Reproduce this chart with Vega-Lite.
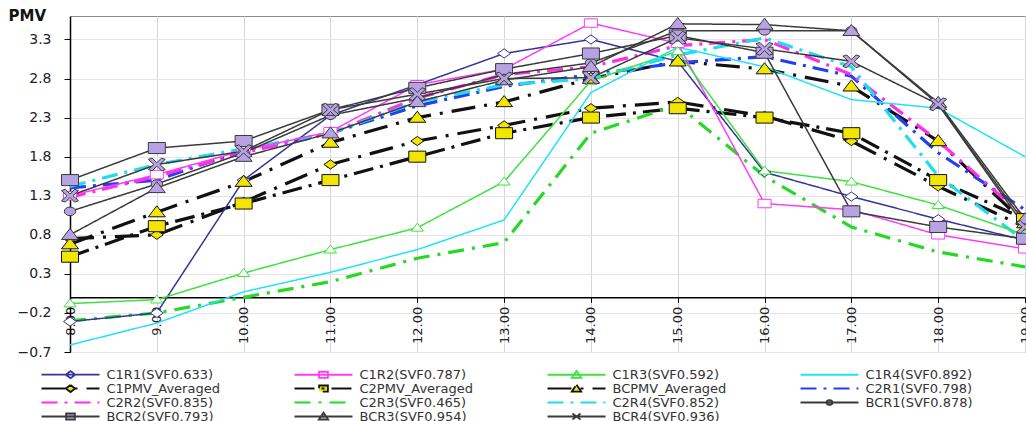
{
  "$schema": "https://vega.github.io/schema/vega-lite/v6.json",
  "width": 955,
  "height": 336,
  "autosize": {"type": "none"},
  "padding": {"left": 70, "top": 16, "right": 1, "bottom": 69},
  "background": "white",
  "config": {
    "font": "DejaVu Sans",
    "view": {"stroke": "#8c8c8c", "strokeWidth": 1},
    "axis": {"labelFont": "DejaVu Sans", "labelColor": "#222222", "tickColor": "#000000", "domainColor": "#000000", "domainWidth": 1.5}
  },
  "data": {
    "values": [
      {"series": "C1R1(SVF0.633)", "hour": 8, "pmv": -0.31}, {"series": "C1R1(SVF0.633)", "hour": 9, "pmv": -0.2}, {"series": "C1R1(SVF0.633)", "hour": 10, "pmv": 1.5}, {"series": "C1R1(SVF0.633)", "hour": 11, "pmv": 2.33}, {"series": "C1R1(SVF0.633)", "hour": 12, "pmv": 2.72}, {"series": "C1R1(SVF0.633)", "hour": 13, "pmv": 3.12}, {"series": "C1R1(SVF0.633)", "hour": 14, "pmv": 3.3}, {"series": "C1R1(SVF0.633)", "hour": 15, "pmv": 3.02}, {"series": "C1R1(SVF0.633)", "hour": 16, "pmv": 1.6}, {"series": "C1R1(SVF0.633)", "hour": 17, "pmv": 1.29}, {"series": "C1R1(SVF0.633)", "hour": 18, "pmv": 1.0}, {"series": "C1R1(SVF0.633)", "hour": 19, "pmv": 0.73},
      {"series": "C1R2(SVF0.787)", "hour": 8, "pmv": 1.3}, {"series": "C1R2(SVF0.787)", "hour": 9, "pmv": 1.57}, {"series": "C1R2(SVF0.787)", "hour": 10, "pmv": 1.88}, {"series": "C1R2(SVF0.787)", "hour": 11, "pmv": 2.12}, {"series": "C1R2(SVF0.787)", "hour": 12, "pmv": 2.72}, {"series": "C1R2(SVF0.787)", "hour": 13, "pmv": 2.92}, {"series": "C1R2(SVF0.787)", "hour": 14, "pmv": 3.51}, {"series": "C1R2(SVF0.787)", "hour": 15, "pmv": 3.25}, {"series": "C1R2(SVF0.787)", "hour": 16, "pmv": 1.2}, {"series": "C1R2(SVF0.787)", "hour": 17, "pmv": 1.12}, {"series": "C1R2(SVF0.787)", "hour": 18, "pmv": 0.8}, {"series": "C1R2(SVF0.787)", "hour": 19, "pmv": 0.62},
      {"series": "C1R3(SVF0.592)", "hour": 8, "pmv": -0.08}, {"series": "C1R3(SVF0.592)", "hour": 9, "pmv": -0.03}, {"series": "C1R3(SVF0.592)", "hour": 10, "pmv": 0.31}, {"series": "C1R3(SVF0.592)", "hour": 11, "pmv": 0.61}, {"series": "C1R3(SVF0.592)", "hour": 12, "pmv": 0.89}, {"series": "C1R3(SVF0.592)", "hour": 13, "pmv": 1.48}, {"series": "C1R3(SVF0.592)", "hour": 14, "pmv": 2.77}, {"series": "C1R3(SVF0.592)", "hour": 15, "pmv": 3.15}, {"series": "C1R3(SVF0.592)", "hour": 16, "pmv": 1.62}, {"series": "C1R3(SVF0.592)", "hour": 17, "pmv": 1.48}, {"series": "C1R3(SVF0.592)", "hour": 18, "pmv": 1.18}, {"series": "C1R3(SVF0.592)", "hour": 19, "pmv": 0.8},
      {"series": "C1R4(SVF0.892)", "hour": 8, "pmv": -0.61}, {"series": "C1R4(SVF0.892)", "hour": 9, "pmv": -0.33}, {"series": "C1R4(SVF0.892)", "hour": 10, "pmv": 0.07}, {"series": "C1R4(SVF0.892)", "hour": 11, "pmv": 0.32}, {"series": "C1R4(SVF0.892)", "hour": 12, "pmv": 0.61}, {"series": "C1R4(SVF0.892)", "hour": 13, "pmv": 0.99}, {"series": "C1R4(SVF0.892)", "hour": 14, "pmv": 2.62}, {"series": "C1R4(SVF0.892)", "hour": 15, "pmv": 3.2}, {"series": "C1R4(SVF0.892)", "hour": 16, "pmv": 2.95}, {"series": "C1R4(SVF0.892)", "hour": 17, "pmv": 2.53}, {"series": "C1R4(SVF0.892)", "hour": 18, "pmv": 2.42}, {"series": "C1R4(SVF0.892)", "hour": 19, "pmv": 1.8},
      {"series": "C1PMV_Averaged", "hour": 8, "pmv": 0.75}, {"series": "C1PMV_Averaged", "hour": 9, "pmv": 0.8}, {"series": "C1PMV_Averaged", "hour": 10, "pmv": 1.22}, {"series": "C1PMV_Averaged", "hour": 11, "pmv": 1.7}, {"series": "C1PMV_Averaged", "hour": 12, "pmv": 2.0}, {"series": "C1PMV_Averaged", "hour": 13, "pmv": 2.2}, {"series": "C1PMV_Averaged", "hour": 14, "pmv": 2.42}, {"series": "C1PMV_Averaged", "hour": 15, "pmv": 2.5}, {"series": "C1PMV_Averaged", "hour": 16, "pmv": 2.32}, {"series": "C1PMV_Averaged", "hour": 17, "pmv": 2.0}, {"series": "C1PMV_Averaged", "hour": 18, "pmv": 1.42}, {"series": "C1PMV_Averaged", "hour": 19, "pmv": 0.9},
      {"series": "C2PMV_Averaged", "hour": 8, "pmv": 0.52}, {"series": "C2PMV_Averaged", "hour": 9, "pmv": 0.91}, {"series": "C2PMV_Averaged", "hour": 10, "pmv": 1.2}, {"series": "C2PMV_Averaged", "hour": 11, "pmv": 1.5}, {"series": "C2PMV_Averaged", "hour": 12, "pmv": 1.8}, {"series": "C2PMV_Averaged", "hour": 13, "pmv": 2.1}, {"series": "C2PMV_Averaged", "hour": 14, "pmv": 2.3}, {"series": "C2PMV_Averaged", "hour": 15, "pmv": 2.42}, {"series": "C2PMV_Averaged", "hour": 16, "pmv": 2.3}, {"series": "C2PMV_Averaged", "hour": 17, "pmv": 2.1}, {"series": "C2PMV_Averaged", "hour": 18, "pmv": 1.5}, {"series": "C2PMV_Averaged", "hour": 19, "pmv": 1.0},
      {"series": "BCPMV_Averaged", "hour": 8, "pmv": 0.68}, {"series": "BCPMV_Averaged", "hour": 9, "pmv": 1.09}, {"series": "BCPMV_Averaged", "hour": 10, "pmv": 1.48}, {"series": "BCPMV_Averaged", "hour": 11, "pmv": 1.98}, {"series": "BCPMV_Averaged", "hour": 12, "pmv": 2.3}, {"series": "BCPMV_Averaged", "hour": 13, "pmv": 2.5}, {"series": "BCPMV_Averaged", "hour": 14, "pmv": 2.8}, {"series": "BCPMV_Averaged", "hour": 15, "pmv": 3.02}, {"series": "BCPMV_Averaged", "hour": 16, "pmv": 2.92}, {"series": "BCPMV_Averaged", "hour": 17, "pmv": 2.7}, {"series": "BCPMV_Averaged", "hour": 18, "pmv": 2.0}, {"series": "BCPMV_Averaged", "hour": 19, "pmv": 0.95},
      {"series": "C2R1(SVF0.798)", "hour": 8, "pmv": 1.4}, {"series": "C2R1(SVF0.798)", "hour": 9, "pmv": 1.5}, {"series": "C2R1(SVF0.798)", "hour": 10, "pmv": 1.88}, {"series": "C2R1(SVF0.798)", "hour": 11, "pmv": 2.1}, {"series": "C2R1(SVF0.798)", "hour": 12, "pmv": 2.45}, {"series": "C2R1(SVF0.798)", "hour": 13, "pmv": 2.7}, {"series": "C2R1(SVF0.798)", "hour": 14, "pmv": 2.85}, {"series": "C2R1(SVF0.798)", "hour": 15, "pmv": 3.0}, {"series": "C2R1(SVF0.798)", "hour": 16, "pmv": 3.08}, {"series": "C2R1(SVF0.798)", "hour": 17, "pmv": 2.83}, {"series": "C2R1(SVF0.798)", "hour": 18, "pmv": 1.85}, {"series": "C2R1(SVF0.798)", "hour": 19, "pmv": 1.12},
      {"series": "C2R2(SVF0.835)", "hour": 8, "pmv": 1.28}, {"series": "C2R2(SVF0.835)", "hour": 9, "pmv": 1.55}, {"series": "C2R2(SVF0.835)", "hour": 10, "pmv": 1.85}, {"series": "C2R2(SVF0.835)", "hour": 11, "pmv": 2.1}, {"series": "C2R2(SVF0.835)", "hour": 12, "pmv": 2.55}, {"series": "C2R2(SVF0.835)", "hour": 13, "pmv": 2.85}, {"series": "C2R2(SVF0.835)", "hour": 14, "pmv": 2.95}, {"series": "C2R2(SVF0.835)", "hour": 15, "pmv": 3.22}, {"series": "C2R2(SVF0.835)", "hour": 16, "pmv": 3.3}, {"series": "C2R2(SVF0.835)", "hour": 17, "pmv": 2.85}, {"series": "C2R2(SVF0.835)", "hour": 18, "pmv": 2.0}, {"series": "C2R2(SVF0.835)", "hour": 19, "pmv": 1.02},
      {"series": "C2R3(SVF0.465)", "hour": 8, "pmv": -0.3}, {"series": "C2R3(SVF0.465)", "hour": 9, "pmv": -0.2}, {"series": "C2R3(SVF0.465)", "hour": 10, "pmv": 0.0}, {"series": "C2R3(SVF0.465)", "hour": 11, "pmv": 0.2}, {"series": "C2R3(SVF0.465)", "hour": 12, "pmv": 0.5}, {"series": "C2R3(SVF0.465)", "hour": 13, "pmv": 0.7}, {"series": "C2R3(SVF0.465)", "hour": 14, "pmv": 2.1}, {"series": "C2R3(SVF0.465)", "hour": 15, "pmv": 2.46}, {"series": "C2R3(SVF0.465)", "hour": 16, "pmv": 1.55}, {"series": "C2R3(SVF0.465)", "hour": 17, "pmv": 0.9}, {"series": "C2R3(SVF0.465)", "hour": 18, "pmv": 0.58}, {"series": "C2R3(SVF0.465)", "hour": 19, "pmv": 0.39},
      {"series": "C2R4(SVF0.852)", "hour": 8, "pmv": 1.42}, {"series": "C2R4(SVF0.852)", "hour": 9, "pmv": 1.7}, {"series": "C2R4(SVF0.852)", "hour": 10, "pmv": 1.9}, {"series": "C2R4(SVF0.852)", "hour": 11, "pmv": 2.1}, {"series": "C2R4(SVF0.852)", "hour": 12, "pmv": 2.5}, {"series": "C2R4(SVF0.852)", "hour": 13, "pmv": 2.72}, {"series": "C2R4(SVF0.852)", "hour": 14, "pmv": 2.8}, {"series": "C2R4(SVF0.852)", "hour": 15, "pmv": 3.1}, {"series": "C2R4(SVF0.852)", "hour": 16, "pmv": 3.32}, {"series": "C2R4(SVF0.852)", "hour": 17, "pmv": 2.95}, {"series": "C2R4(SVF0.852)", "hour": 18, "pmv": 1.55}, {"series": "C2R4(SVF0.852)", "hour": 19, "pmv": 0.72},
      {"series": "BCR1(SVF0.878)", "hour": 8, "pmv": 1.1}, {"series": "BCR1(SVF0.878)", "hour": 9, "pmv": 1.45}, {"series": "BCR1(SVF0.878)", "hour": 10, "pmv": 1.85}, {"series": "BCR1(SVF0.878)", "hour": 11, "pmv": 2.33}, {"series": "BCR1(SVF0.878)", "hour": 12, "pmv": 2.55}, {"series": "BCR1(SVF0.878)", "hour": 13, "pmv": 2.85}, {"series": "BCR1(SVF0.878)", "hour": 14, "pmv": 3.0}, {"series": "BCR1(SVF0.878)", "hour": 15, "pmv": 3.41}, {"series": "BCR1(SVF0.878)", "hour": 16, "pmv": 3.41}, {"series": "BCR1(SVF0.878)", "hour": 17, "pmv": 3.41}, {"series": "BCR1(SVF0.878)", "hour": 18, "pmv": 2.47}, {"series": "BCR1(SVF0.878)", "hour": 19, "pmv": 0.95},
      {"series": "BCR2(SVF0.793)", "hour": 8, "pmv": 1.5}, {"series": "BCR2(SVF0.793)", "hour": 9, "pmv": 1.91}, {"series": "BCR2(SVF0.793)", "hour": 10, "pmv": 2.0}, {"series": "BCR2(SVF0.793)", "hour": 11, "pmv": 2.4}, {"series": "BCR2(SVF0.793)", "hour": 12, "pmv": 2.68}, {"series": "BCR2(SVF0.793)", "hour": 13, "pmv": 2.92}, {"series": "BCR2(SVF0.793)", "hour": 14, "pmv": 3.12}, {"series": "BCR2(SVF0.793)", "hour": 15, "pmv": 3.35}, {"series": "BCR2(SVF0.793)", "hour": 16, "pmv": 3.13}, {"series": "BCR2(SVF0.793)", "hour": 17, "pmv": 1.1}, {"series": "BCR2(SVF0.793)", "hour": 18, "pmv": 0.9}, {"series": "BCR2(SVF0.793)", "hour": 19, "pmv": 0.75},
      {"series": "BCR3(SVF0.954)", "hour": 8, "pmv": 0.8}, {"series": "BCR3(SVF0.954)", "hour": 9, "pmv": 1.4}, {"series": "BCR3(SVF0.954)", "hour": 10, "pmv": 1.8}, {"series": "BCR3(SVF0.954)", "hour": 11, "pmv": 2.1}, {"series": "BCR3(SVF0.954)", "hour": 12, "pmv": 2.5}, {"series": "BCR3(SVF0.954)", "hour": 13, "pmv": 2.78}, {"series": "BCR3(SVF0.954)", "hour": 14, "pmv": 2.95}, {"series": "BCR3(SVF0.954)", "hour": 15, "pmv": 3.5}, {"series": "BCR3(SVF0.954)", "hour": 16, "pmv": 3.49}, {"series": "BCR3(SVF0.954)", "hour": 17, "pmv": 3.41}, {"series": "BCR3(SVF0.954)", "hour": 18, "pmv": 2.49}, {"series": "BCR3(SVF0.954)", "hour": 19, "pmv": 1.0},
      {"series": "BCR4(SVF0.936)", "hour": 8, "pmv": 1.3}, {"series": "BCR4(SVF0.936)", "hour": 9, "pmv": 1.7}, {"series": "BCR4(SVF0.936)", "hour": 10, "pmv": 1.87}, {"series": "BCR4(SVF0.936)", "hour": 11, "pmv": 2.4}, {"series": "BCR4(SVF0.936)", "hour": 12, "pmv": 2.6}, {"series": "BCR4(SVF0.936)", "hour": 13, "pmv": 2.8}, {"series": "BCR4(SVF0.936)", "hour": 14, "pmv": 2.81}, {"series": "BCR4(SVF0.936)", "hour": 15, "pmv": 3.32}, {"series": "BCR4(SVF0.936)", "hour": 16, "pmv": 3.18}, {"series": "BCR4(SVF0.936)", "hour": 17, "pmv": 3.02}, {"series": "BCR4(SVF0.936)", "hour": 18, "pmv": 2.47}, {"series": "BCR4(SVF0.936)", "hour": 19, "pmv": 0.9}
    ]
  },
  "encoding": {
    "x": {
      "field": "hour",
      "type": "quantitative",
      "scale": {"domain": [8, 19], "nice": false, "zero": false},
      "axis": {
        "title": null,
        "values": [8, 9, 10, 11, 12, 13, 14, 15, 16, 17, 18, 19],
        "format": ".2f",
        "offset": -54.7,
        "labelAngle": -90,
        "labelAlign": "right",
        "labelBaseline": "middle",
        "labelFontSize": 13,
        "labelPadding": 4,
        "labelFlush": false,
        "labelOverlap": false,
        "tickSize": 5,
        "grid": true,
        "gridColor": "#d4d4e2",
        "gridWidth": 1
      }
    },
    "y": {
      "field": "pmv",
      "type": "quantitative",
      "scale": {"domain": [-0.7, 3.6], "nice": false, "zero": false},
      "axis": {
        "values": [-0.7, -0.2, 0.3, 0.8, 1.3, 1.8, 2.3, 2.8, 3.3],
        "format": ".1f",
        "labelFontSize": 14,
        "labelPadding": 13,
        "tickSize": 6,
        "grid": true,
        "gridColor": "#e4e4ec",
        "title": "PMV",
        "titleAngle": 0,
        "titleX": -62,
        "titleY": 4,
        "titleAlign": "left",
        "titleBaseline": "alphabetic",
        "titleFont": "DejaVu Sans",
        "titleFontSize": 15,
        "titleFontWeight": "bold",
        "titleColor": "#111111"
      }
    },
    "stroke": {
      "field": "series",
      "type": "nominal",
      "scale": {
        "domain": ["C1R1(SVF0.633)", "C1R2(SVF0.787)", "C1R3(SVF0.592)", "C1R4(SVF0.892)", "C1PMV_Averaged", "C2PMV_Averaged", "BCPMV_Averaged", "C2R1(SVF0.798)", "C2R2(SVF0.835)", "C2R3(SVF0.465)", "C2R4(SVF0.852)", "BCR1(SVF0.878)", "BCR2(SVF0.793)", "BCR3(SVF0.954)", "BCR4(SVF0.936)"],
        "range": ["#35349a", "#ff3cf5", "#3de23d", "#1fe3f5", "#111111", "#111111", "#111111", "#2140f5", "#ff2ee8", "#27d827", "#22dcec", "#3a3a3a", "#3a3a3a", "#3a3a3a", "#3a3a3a"]
      },
      "legend": {
        "orient": "none", "direction": "horizontal", "legendX": -6, "legendY": 352, "title": null, "columns": 4, "gridAlign": "all", "columnPadding": 69, "rowPadding": -1.7, "padding": 0,
        "symbolSize": 121, "symbolOffset": 0, "symbolStrokeWidth": 1.8, "labelOffset": 29.5, "labelFont": "DejaVu Sans", "labelFontSize": 13, "labelColor": "#333333", "labelLimit": 0
      }
    }
  },
  "layer": [
    {
      "transform": [{"filter": {"field": "series", "oneOf": ["C1PMV_Averaged", "C2PMV_Averaged", "BCPMV_Averaged", "C2R1(SVF0.798)", "C2R2(SVF0.835)", "C2R3(SVF0.465)", "C2R4(SVF0.852)"]}}],
      "mark": {"type": "line", "strokeWidth": 3.2},
      "encoding": {
        "strokeDash": {
          "field": "series",
          "type": "nominal",
          "scale": {
            "domain": ["C1R1(SVF0.633)", "C1R2(SVF0.787)", "C1R3(SVF0.592)", "C1R4(SVF0.892)", "C1PMV_Averaged", "C2PMV_Averaged", "BCPMV_Averaged", "C2R1(SVF0.798)", "C2R2(SVF0.835)", "C2R3(SVF0.465)", "C2R4(SVF0.852)", "BCR1(SVF0.878)", "BCR2(SVF0.793)", "BCR3(SVF0.954)", "BCR4(SVF0.936)"],
            "range": [[1, 0], [1, 0], [1, 0], [1, 0], [24, 9, 3, 9], [20, 7, 3, 7], [24, 9, 3, 9], [16, 7, 3, 7], [16, 7, 3, 7], [16, 8, 3, 8], [16, 7, 3, 7], [1, 0], [1, 0], [1, 0], [1, 0]]
          }
        }
      }
    },
    {
      "transform": [{"filter": {"field": "series", "oneOf": ["C1R1(SVF0.633)", "C1R2(SVF0.787)", "C1R3(SVF0.592)", "C1R4(SVF0.892)", "BCR1(SVF0.878)", "BCR2(SVF0.793)", "BCR3(SVF0.954)", "BCR4(SVF0.936)"]}}],
      "mark": {"type": "line", "strokeWidth": 1.5},
      "encoding": {
        "strokeDash": {"field": "series", "type": "nominal"}
      }
    },
    {
      "transform": [{"filter": {"field": "series", "oneOf": ["C1R1(SVF0.633)", "C1PMV_Averaged"]}}],
      "mark": {"type": "point", "shape": "M0,-0.7L1,0L0,0.7L-1,0Z", "size": 170, "strokeWidth": 1, "opacity": 1},
      "encoding": {
        "fill": {
          "field": "series",
          "type": "nominal",
          "scale": {
            "domain": ["C1R1(SVF0.633)", "C1R2(SVF0.787)", "C1R3(SVF0.592)", "C1R4(SVF0.892)", "C1PMV_Averaged", "C2PMV_Averaged", "BCPMV_Averaged", "C2R1(SVF0.798)", "C2R2(SVF0.835)", "C2R3(SVF0.465)", "C2R4(SVF0.852)", "BCR1(SVF0.878)", "BCR2(SVF0.793)", "BCR3(SVF0.954)", "BCR4(SVF0.936)"],
            "range": ["#ffffff", "#ffffff", "#ffffff", "transparent", "#f2e600", "#f2e600", "#f2e600", "transparent", "transparent", "transparent", "transparent", "#b7a3e3", "#b7a3e3", "#b7a3e3", "#b7a3e3"]
          }
        }
      }
    },
    {
      "transform": [{"filter": {"field": "series", "equal": "C1R2(SVF0.787)"}}],
      "mark": {"type": "point", "shape": "M-1,-0.65H1V0.65H-1Z", "size": 170, "strokeWidth": 1, "opacity": 1},
      "encoding": {"fill": {"field": "series", "type": "nominal"}}
    },
    {
      "transform": [{"filter": {"field": "series", "equal": "C1R3(SVF0.592)"}}],
      "mark": {"type": "point", "shape": "M0,-0.75L1,0.55H-1Z", "size": 150, "strokeWidth": 1, "opacity": 1},
      "encoding": {"fill": {"field": "series", "type": "nominal"}}
    },
    {
      "transform": [{"filter": {"field": "series", "equal": "BCR1(SVF0.878)"}}],
      "mark": {"type": "point", "shape": "M-1,0A1,0.75 0 1,0 1,0A1,0.75 0 1,0 -1,0Z", "size": 130, "strokeWidth": 1, "opacity": 1},
      "encoding": {"fill": {"field": "series", "type": "nominal"}}
    },
    {
      "transform": [{"filter": {"field": "series", "oneOf": ["C2PMV_Averaged", "BCR2(SVF0.793)"]}}],
      "mark": {"type": "point", "shape": "M-1,-0.65H1V0.65H-1Z", "size": 289, "strokeWidth": 1, "opacity": 1},
      "encoding": {"fill": {"field": "series", "type": "nominal"}}
    },
    {
      "transform": [{"filter": {"field": "series", "oneOf": ["BCPMV_Averaged", "BCR3(SVF0.954)"]}}],
      "mark": {"type": "point", "shape": "M0,-0.75L1,0.55H-1Z", "size": 289, "strokeWidth": 1, "opacity": 1},
      "encoding": {"fill": {"field": "series", "type": "nominal"}}
    },
    {
      "transform": [{"filter": {"field": "series", "equal": "BCR4(SVF0.936)"}}],
      "mark": {"type": "point", "shape": "M-1,-0.6L-0.55,-0.75L0,-0.2L0.55,-0.75L1,-0.6L0.35,0L1,0.6L0.55,0.75L0,0.2L-0.55,0.75L-1,0.6L-0.35,0Z", "size": 289, "strokeWidth": 1, "opacity": 1},
      "encoding": {"fill": {"field": "series", "type": "nominal"}}
    },
    {
      "transform": [{"filter": "false"}],
      "mark": {"type": "point", "opacity": 1},
      "encoding": {
        "shape": {
          "field": "series",
          "type": "nominal",
          "scale": {
            "domain": ["C1R1(SVF0.633)", "C1R2(SVF0.787)", "C1R3(SVF0.592)", "C1R4(SVF0.892)", "C1PMV_Averaged", "C2PMV_Averaged", "BCPMV_Averaged", "C2R1(SVF0.798)", "C2R2(SVF0.835)", "C2R3(SVF0.465)", "C2R4(SVF0.852)", "BCR1(SVF0.878)", "BCR2(SVF0.793)", "BCR3(SVF0.954)", "BCR4(SVF0.936)"],
            "range": [
              "M-5.27,0H5.27M0,-0.65L0.85,0L0,0.65L-0.85,0Z",
              "M-5.27,0H5.27M-0.8,-0.55H0.8V0.55H-0.8Z",
              "M-5.27,0H5.27M0,-0.7L0.85,0.55H-0.85Z",
              "M-5.27,0H5.27",
              "M-5.27,0H5.27M0,-0.65L0.85,0L0,0.65L-0.85,0Z",
              "M-5.27,0H5.27M-0.8,-0.55H0.8V0.55H-0.8Z",
              "M-5.27,0H5.27M0,-0.7L0.85,0.55H-0.85Z",
              "M-5.27,0H5.27",
              "M-5.27,0H5.27",
              "M-5.27,0H5.27",
              "M-5.27,0H5.27",
              "M-5.27,0H5.27M-0.55,0A0.55,0.45 0 1,0 0.55,0A0.55,0.45 0 1,0 -0.55,0Z",
              "M-5.27,0H5.27M-0.8,-0.55H0.8V0.55H-0.8Z",
              "M-5.27,0H5.27M0,-0.7L0.85,0.55H-0.85Z",
              "M-5.27,0H5.27M-0.75,-0.55L0.75,0.55M-0.75,0.55L0.75,-0.55"
            ]
          }
        }
      }
    }
  ]
}
